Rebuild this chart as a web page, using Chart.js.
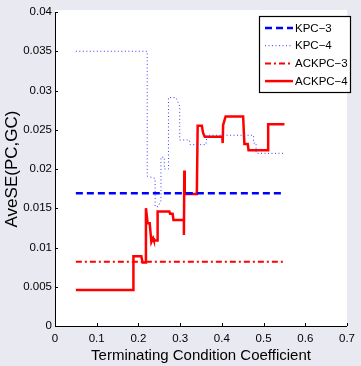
<!DOCTYPE html>
<html>
<head>
<meta charset="utf-8">
<script src="https://cdn.jsdelivr.net/npm/chart.js@4.4.1/dist/chart.umd.min.js"></script>
<style>
  html, body { margin: 0; padding: 0; background: #e9e9f1; }
  #wrap { width: 361px; height: 366px; }
</style>
</head>
<body>
<div id="wrap"><canvas id="chart" width="361" height="366"></canvas></div>
<script>
// Series data (x = coefficient, y = AveSE)
const kpc3X = [0.05, 0.55];
const kpc3Y = [0.0169, 0.0169];

const kpc4X = [0.05, 0.221, 0.221, 0.240, 0.240, 0.247, 0.254, 0.254, 0.262, 0.262, 0.272, 0.272, 0.290, 0.299, 0.299, 0.322, 0.324, 0.362, 0.364, 0.476, 0.476, 0.482, 0.482, 0.55];
const kpc4Y = [0.035, 0.035, 0.0191, 0.0188, 0.0152, 0.0152, 0.0160, 0.0215, 0.0215, 0.0200, 0.0200, 0.0291, 0.0291, 0.0280, 0.0237, 0.0237, 0.0231, 0.0231, 0.0243, 0.0243, 0.0233, 0.0233, 0.0220, 0.0220];

const ackpc3X = [0.05, 0.55];
const ackpc3Y = [0.0082, 0.0082];

const ackpc4X = [0.05, 0.188, 0.188, 0.207, 0.210, 0.218, 0.218, 0.222, 0.227, 0.231, 0.235, 0.237, 0.246, 0.246, 0.274, 0.276, 0.282, 0.284, 0.309, 0.309, 0.310, 0.311, 0.340, 0.342, 0.352, 0.355, 0.359, 0.401, 0.402, 0.403, 0.409, 0.451, 0.454, 0.462, 0.464, 0.511, 0.511, 0.55];
const ackpc4Y = [0.0046, 0.0046, 0.0089, 0.0089, 0.0081, 0.0081, 0.0150, 0.0131, 0.0131, 0.0107, 0.0112, 0.0109, 0.0109, 0.0146, 0.0146, 0.0143, 0.0143, 0.0135, 0.0135, 0.0116, 0.0198, 0.0168, 0.0168, 0.0255, 0.0255, 0.0246, 0.0241, 0.0241, 0.0233, 0.0256, 0.0267, 0.0267, 0.0232, 0.0232, 0.0224, 0.0224, 0.0257, 0.0257];

const seriesLabels = ['KPC\u22123', 'KPC\u22124', 'ACKPC\u22123', 'ACKPC\u22124'];
const xTitle = 'Terminating Condition Coefficient';
const yTitle = 'AveSE(PC,GC)';

const FONT = "'Liberation Sans', Arial, sans-serif";

function toPoints(xs, ys) {
  return xs.map((x, i) => ({ x: x, y: ys[i] }));
}

// white plot area, inward ticks, boxed legend
const matlabLook = {
  id: 'matlabLook',
  beforeDraw(chart) {
    const { ctx, chartArea: a } = chart;
    ctx.save();
    ctx.fillStyle = '#ffffff';
    ctx.fillRect(a.left, a.top - 2, a.right - a.left, a.bottom - a.top + 2);
    ctx.restore();
  },
  afterDraw(chart) {
    const { ctx, chartArea: a, scales } = chart;
    ctx.save();
    ctx.strokeStyle = '#000';
    ctx.lineWidth = 1;
    ctx.beginPath();
    ctx.moveTo(a.left + 0.5, a.top);
    ctx.lineTo(a.left + 0.5, a.bottom + 0.5);
    ctx.lineTo(a.right, a.bottom + 0.5);
    ctx.stroke();
    ctx.beginPath();
    scales.x.ticks.forEach(t => {
      const px = Math.round(scales.x.getPixelForValue(t.value)) + 0.5;
      ctx.moveTo(px, a.bottom);
      ctx.lineTo(px, a.bottom - 3);
    });
    scales.y.ticks.forEach(t => {
      const py = Math.round(scales.y.getPixelForValue(t.value)) + 0.5;
      ctx.moveTo(a.left, py);
      ctx.lineTo(a.left + 3, py);
    });
    ctx.stroke();

    // legend box
    const bx = 259, by = 16, bw = 91, bh = 76;
    ctx.fillStyle = '#fff';
    ctx.fillRect(bx, by, bw, bh);
    ctx.lineWidth = 1.2;
    ctx.strokeRect(bx + 0.5, by + 0.5, bw, bh);
    ctx.font = '11.5px ' + FONT;
    ctx.textBaseline = 'middle';
    chart.data.datasets.forEach((ds, i) => {
      const ly = by + 12 + i * 17.7;
      ctx.strokeStyle = ds.borderColor;
      ctx.lineWidth = ds.borderWidth;
      ctx.setLineDash(ds.borderDash || []);
      ctx.beginPath();
      ctx.moveTo(bx + 6, ly);
      ctx.lineTo(bx + 34, ly);
      ctx.stroke();
      ctx.setLineDash([]);
      ctx.fillStyle = '#000';
      ctx.fillText(ds.label, bx + 36, ly + 0.5);
    });
    ctx.restore();
  }
};

const ctx = document.getElementById('chart').getContext('2d');
const chart = new Chart(ctx, {
  type: 'scatter',
  data: {
    datasets: [
      {
        label: seriesLabels[0],
        data: toPoints(kpc3X, kpc3Y),
        borderColor: '#0000ff',
        borderWidth: 2.5,
        borderDash: [7, 4],
      },
      {
        label: seriesLabels[1],
        data: toPoints(kpc4X, kpc4Y),
        borderColor: '#3a3aff',
        borderWidth: 1,
        borderDash: [1, 2.5],
      },
      {
        label: seriesLabels[2],
        data: toPoints(ackpc3X, ackpc3Y),
        borderColor: '#ff0000',
        borderWidth: 2,
        borderDash: [6, 3, 2, 3],
      },
      {
        label: seriesLabels[3],
        data: toPoints(ackpc4X, ackpc4Y),
        borderColor: '#ff0000',
        borderWidth: 2.5,
      }
    ].map(ds => Object.assign(ds, { showLine: true, pointRadius: 0, fill: false, tension: 0 }))
  },
  options: {
    responsive: false,
    animation: false,
    layout: { padding: { top: 12, right: 8, left: 0, bottom: 0 } },
    plugins: {
      legend: { display: false },
      tooltip: { enabled: false }
    },
    scales: {
      x: {
        type: 'linear',
        min: 0,
        max: 0.7,
        afterFit: s => { s.height = 40; },
        border: { display: false },
        grid: { display: false, drawTicks: false },
        ticks: {
          stepSize: 0.1,
          padding: 6,
          color: '#000',
          font: { family: FONT, size: 11.5 },
          callback: v => String(+v.toFixed(3))
        },
        title: {
          display: true,
          text: xTitle,
          color: '#000',
          font: { family: FONT, size: 15 },
          padding: { top: 0, bottom: 1 }
        }
      },
      y: {
        type: 'linear',
        min: 0,
        max: 0.04,
        afterFit: s => { s.width = 55; },
        border: { display: false },
        grid: { display: false, drawTicks: false },
        ticks: {
          stepSize: 0.005,
          padding: 3,
          color: '#000',
          font: { family: FONT, size: 11.5 },
          callback: v => String(+v.toFixed(3))
        },
        title: {
          display: true,
          text: yTitle,
          color: '#000',
          font: { family: FONT, size: 17 },
          padding: { top: 2, bottom: 0 }
        }
      }
    }
  },
  plugins: [matlabLook]
});
</script>
</body>
</html>
